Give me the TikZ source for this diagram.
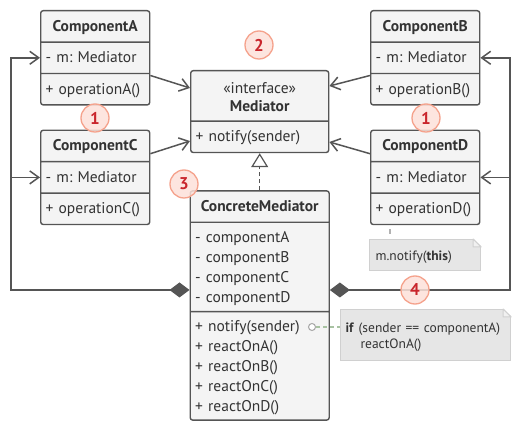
\documentclass[tikz,border=0pt]{standalone}
\usepackage{fontspec}
\setmainfont{PT Sans}
\usepackage{tikz}
\usetikzlibrary{arrows.meta, positioning, shapes.multipart, calc}
\definecolor{lineGray}{HTML}{555555}
\definecolor{boxFill}{HTML}{F4F4F4}
\definecolor{textGray}{HTML}{333333}
\definecolor{noteFill}{HTML}{E6E6E6}
\definecolor{noteBorder}{HTML}{D0D0D0}
\definecolor{foldFill}{HTML}{F1F1F1}
\definecolor{numFill}{HTML}{FDE1D9}
\definecolor{numBorder}{HTML}{F5A28C}
\definecolor{numRed}{HTML}{C9252C}
\definecolor{linkGreen}{HTML}{A8C2A2}
\frenchspacing
\newcommand{\onerow}{\rule[-10pt]{0pt}{30pt}}
\newcommand{\classname}[1]{\makebox[\linewidth]{\onerow\textbf{#1}}}
\tikzset{
  umlclass/.style={rectangle split, rectangle split parts=#1, draw=lineGray, fill=boxFill,
    rounded corners=2.5pt, line width=1.4pt, text=textGray, font=\fontsize{15.5}{20}\selectfont,
    inner xsep=5pt, inner ysep=0pt, align=left, anchor=north west},
  umlclass/.default=3,
  note/.style={rectangle, draw=noteBorder, fill=noteFill, line width=1.2pt, text=textGray,
    inner ysep=0pt, align=left, anchor=north west, font=\fontsize{13.5}{16.6}\selectfont},
  notefold/.style={draw=noteBorder, fill=foldFill, line width=1pt, line join=round},
  badge/.style={circle, fill=numFill, draw=numBorder, line width=1.3pt, minimum size=28pt,
    inner sep=0pt, text=numRed, font=\fontsize{17}{17}\selectfont\bfseries, fill opacity=0.85, text opacity=1},
  assoc/.style={draw=lineGray, line width=1.5pt, -{Straight Barb[length=9pt,width=13pt]}},
  aggr/.style={draw=lineGray, line width=1.5pt, {Diamond[length=20pt,width=15pt]}-{Straight Barb[length=9pt,width=13pt]}},
  realize/.style={draw=lineGray, line width=1.2pt, dash pattern=on 4pt off 3pt, -{Triangle[open,length=14pt,width=17pt]}}
}
\begin{document}
\begin{tikzpicture}[x=1pt, y=-1pt]
\useasboundingbox (0,0) rectangle (520,430);
% classes
\node[umlclass, text width=99pt] (compA) at (40,10) {\classname{ComponentA}\nodepart{two}\onerow- m: Mediator\nodepart{three}\onerow+ operationA()};
\node[umlclass, text width=99pt, below=24pt of compA] (compC) {\classname{ComponentC}\nodepart{two}\onerow- m: Mediator\nodepart{three}\onerow+ operationC()};
\node[umlclass, text width=99pt] (compB) at (370,10) {\classname{ComponentB}\nodepart{two}\onerow- m: Mediator\nodepart{three}\onerow+ operationB()};
\node[umlclass, text width=99pt, below=24pt of compB] (compD) {\classname{ComponentD}\nodepart{two}\onerow- m: Mediator\nodepart{three}\onerow+ operationD()};
\node[umlclass=2, text width=128pt] (mediator) at (190,70) {\makebox[\linewidth]{\rule{0pt}{22pt}«interface»}\\[-1.5pt]\makebox[\linewidth]{\rule[-8.5pt]{0pt}{8.5pt}\textbf{Mediator}}\nodepart{two}\onerow+ notify(sender)};
\node[umlclass, text width=129pt, below=37pt of mediator] (concrete) {\classname{ConcreteMediator}\nodepart{two}\rule{0pt}{20pt}- componentA\\- componentB\\- componentC\\- componentD\rule[-8pt]{0pt}{8pt}\nodepart{three}\rule{0pt}{19pt}+ notify(sender)\\+ reactOnA()\\+ reactOnB()\\+ reactOnC()\\+ reactOnD()\rule[-8pt]{0pt}{8pt}};
% notes
\node[note, text width=99pt, inner xsep=6pt] (note1) at (369,239) {\rule[-10pt]{0pt}{31pt}m.notify(\textbf{this})};
\node[note, text width=160pt, inner xsep=5pt] (note2) at (340,309) {\rule{0pt}{22.7pt}\textbf{if} (sender == componentA)\\\hspace*{15pt}reactOnA()\rule[-11.7pt]{0pt}{11.7pt}};
\foreach \n in {note1,note2} {
  \coordinate (fold) at (\n.north east);
  \fill[white] ([xshift=-8pt,yshift=0.5pt]fold) -- ([xshift=1pt,yshift=0.5pt]fold) -- ([xshift=1pt,yshift=-8pt]fold) -- cycle;
  \filldraw[notefold] ([xshift=-8pt]fold) -- ([xshift=-8pt,yshift=-8pt]fold) -- ([yshift=-8pt]fold) -- cycle;
}
% links
\coordinate (busL) at (11,290);
\coordinate (busR) at (510,290);
\coordinate (inA) at ($(compA.text split west)!.5!(compA.two split west)$);
\coordinate (inC) at ($(compC.text split west)!.5!(compC.two split west)$);
\coordinate (inB) at ($(compB.text split east)!.5!(compB.two split east)$);
\coordinate (inD) at ($(compD.text split east)!.5!(compD.two split east)$);
\draw[assoc] ([yshift=-2pt]compA.two split east) -- ([yshift=-18pt]mediator.north west);
\draw[assoc] ([yshift=8pt]compC.text split east) -- ([yshift=-71pt]mediator.north west);
\draw[assoc] ([yshift=-2pt]compB.two split west) -- ([yshift=-16pt]mediator.north east);
\draw[assoc] ([yshift=8pt]compD.text split west) -- ([yshift=-72pt]mediator.north east);
\draw[realize] (concrete.north) -- (mediator.south);
\draw[aggr] (concrete.west |- busL) -- (busL) |- (inA);
\draw[assoc] (busL |- inC) -- (inC);
\draw[aggr] (concrete.east |- busR) -- (busR) |- (inB);
\draw[assoc] (busR |- inD) -- (inD);
\draw[draw=black!30, line width=1.2pt, dash pattern=on 0pt off 4pt on 5pt off 10pt] ([xshift=20pt]compD.south west) -- ([xshift=21pt]note1.north west);
\node[circle, draw=black!35, fill=white, line width=1pt, minimum size=7pt, inner sep=0pt] (hook) at (312,327) {};
\draw[draw=linkGreen, line width=1.2pt, dash pattern=on 4pt off 3pt] (hook) -- (note2.west |- hook);
% numbers
\node[badge] (num2) at (259,45) {2};
\node[badge] (num1a) at (95,118) {1};
\node[badge] (num1b) at (426,118) {1};
\node[badge] (num3) at (184,184) {3};
\node[badge] (num4) at (415,290) {4};
\end{tikzpicture}
\end{document}
